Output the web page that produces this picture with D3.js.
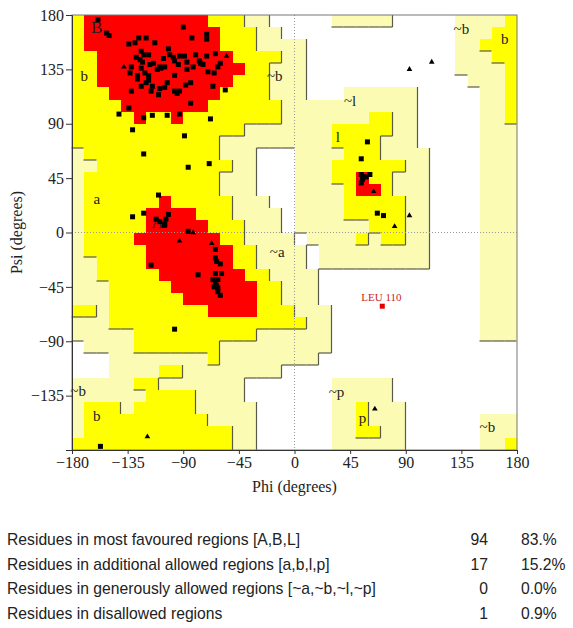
<!DOCTYPE html>
<html>
<head>
<meta charset="utf-8">
<script src="https://cdn.jsdelivr.net/npm/d3@7"></script>
<style>
  body { margin: 0; background: #fff; }
</style>
</head>
<body>
<div id="chart"></div>
<script>
// Region map, 10x10 degree cells. Rows go from psi 180 (top) down to psi -180,
// columns from phi -180 to 180. R core, Y allowed, P generous, . disallowed
const regionRows = [
  "YRRRRRRRRRRYYYPP.....PPPPP.....PPPPY",
  "YRRRRRRRRRRRYYYPP..............PPPYY",
  "YRRRRRRRRRRRYYYPPPP............PPYYY",
  "YYRRRRRRRRRRRYYYYPP............PPPYY",
  "YYRRRRRRRRRRRRYYPPP............PPPPY",
  "YYRRRRRRRRRRRYYYPPP.............PPPY",
  "YYYRRRRRRRRRYYYYPPP...PPPPPP.....PPY",
  "YYYYRRRRRRRYYYYYYPPPPPPPPPPP.....PPY",
  "YYYYYRYYRYYYYYYYYPPPPPPPYYPP.....PPY",
  "YYYYYYYYYYYYYYPPPPPPPYYYYYPP.....PPP",
  "YYYYYYYYYYYYPPPPPPPPPYYYYPPP.....PPP",
  "PYYYYYYYYYYYPPP...PPPPYYYPPPP....PPP",
  "PPYYYYYYYYYYYPP...PPPYYYYYYPP....PPP",
  "PYYYYYYYYYYYPPP...PPPYYRYYPPP....PPP",
  "PYYYYYYYYYYYPPP...PPPPYRRYPPP....PPP",
  "PYYYYYYRYYYYYPPP..PPPPYYYYYPP....PPP",
  "PYYYYYRRRRYYYPPPP.PPPPYYYYYPP....PPP",
  "PYYYYYRRRRRYYYPPP.PPPPPPYYYPP....PPP",
  "PYYYYRRRRRRRYYPPPP.PPPPYPYYPP....PPP",
  "PYYYYYRRRRRRRYYPPPP.PPPPPPPPP....PPP",
  "PPYYYYRRRRRRRYYPPPP.PPPPPPPPP....PPP",
  "PPYYYYYRRRRRRRYYPPPP.............PPP",
  "PPPYYYYYRRRRRRRYYPPP.............PPP",
  "PPPYYYYYYRRRRRRYYPPP.............PPP",
  "YYPYYYYYYYYRRRRYYYPPP............PPP",
  "PPPYYYYYYYYYYYYYYYYPP............PPP",
  "PPPPPYYYYYYYYYYPPPPPP............PPP",
  ".PPPPYYYYYYYPPPPPPPPP...............",
  "...PPPPPPPPYPPPPPPPP................",
  "...PPPPYYPPPPPPPP...................",
  "PPPPPYYPPPPPPP.......PPPPP..........",
  "PPPPPPYYYYPPPP.......PPPPP..........",
  "PYYYPYYYYYPPPPP......PPYPPP.........",
  "PYYYYYYYYYYPPPP......PPYPPP......PPP",
  "PYYYYYYYYYYYYPP......PPYYPP......PPP",
  "YYYYYYYYYYYYYPP......PPPPPP......PPY"
];

// residues [phi, psi]
const betaResidues = [
  [-159,176],[-152,165],[-150,163],[-90,170],[-83,161],[-71,164],[-71,160],[-126,161],
  [-120,161],[-134,156],[-129,157],[-113,157],[-102,152],[-124,150],[-122,147],[-118,147],
  [-128,145],[-125,143],[-132,137],[-124,136],[-117,139],[-114,140],[-109,137],[-106,144],
  [-101,147],[-98,145],[-97,142],[-93,146],[-89,146],[-87,141],[-80,147],[-77,142],
  [-74,139],[-71,146],[-64,148],[-62,137],[-133,132],[-127,130],[-121,132],[-118,130],
  [-111,135],[-108,136],[-105,137],[-94,139],[-87,135],[-82,137],[-76,140],[-70,133],
  [-65,132],[-118,126],[-124,121],[-115,121],[-109,119],[-105,120],[-97,117],[-95,115],
  [-93,117],[-88,122],[-84,124],[-66,121],[-132,117],[-116,117],[-110,114],[-84,107],
  [-115,97],[-103,97],[-93,98],[-122,95],[-97,130],[-103,124],[-127,127],[-120,124],
  [-123,141],[-60,140],[-56,118]
];
const extendedResidues = [
  [-142,98],[-134,103],[-68,94],[-131,85],[-89,80],[-122,65],[-69,57],[-86,54],[-157,-177]
];
const alphaResidues = [
  [-110,31],[-131,13],[-122,16],[-112,11],[-109,9],[-104,11],[-102,15],[-105,6],[-105,7],
  [-86,1],[-64,-14],[-116,-27],[-78,-35],[-64,-21],[-63,-24],[-60,-26],[-64,-34],[-59,-34],
  [-66,-39],[-64,-41],[-62,-39],[-63,-44],[-65,-45],[-62,-46],[-60,-52],[-62,-49],[-97,-80]
];
const leftResidues = [
  [54,48],[56,46],[58,46],[61,48],[54,41],[55,44],[67,16],[72,14],[54,61],[59,75]
];
const glycines = [
  [-138,137],[-55,146],[93,135],[111,141],[-82,0],[-93,-7],[-67,-9],
  [64,34],[93,14],[81,5],[-119,-169],[65,-146]
];
const outliers = [{label: "LEU 110", phi: 71, psi: -61}];

const regionLabels = [
  ["B",-160,170],["b",-170,130],["~b",-16,130],["~l",45,109],["l",35,79],
  ["~b",135,169],["b",170,160],["a",-160,28],["A",-111,9],["~a",-14,-16],
  ["~b",-175,-131],["b",-160,-152],["~p",34,-132],["p",55,-153],["~b",156,-161]
];

const phiTicks = [-180,-135,-90,-45,0,45,90,135,180];
const psiTicks = [-135,-90,-45,0,45,90,135,180];

const summaryLabels = [
  "Residues in most favoured regions [A,B,L]",
  "Residues in additional allowed regions [a,b,l,p]",
  "Residues in generously allowed regions [~a,~b,~l,~p]",
  "Residues in disallowed regions"
];
const summaryCounts = [94, 17, 0, 1];
const summaryPercents = ["83.%", "15.2%", "0.0%", "0.9%"];

const regionColor = {"R": "#ff0000", "Y": "#ffff00", "P": "#fbfbb4", ".": "#ffffff"};
const rank = {"R": 3, "Y": 2, "P": 1, ".": 0};

const W = 573, H = 628;
const svg = d3.select("#chart").append("svg")
  .attr("width", W).attr("height", H);

const x = d3.scaleLinear().domain([-180, 180]).range([72, 517]);
const y = d3.scaleLinear().domain([-180, 180]).range([450, 15]);
const px = v => Math.round(x(v));
const py = v => Math.round(y(v));

// region cells
const cells = [];
regionRows.forEach((row, r) => {
  row.split("").forEach((k, c) => {
    cells.push({r, c, k, phi: -180 + c * 10, psi: 180 - r * 10});
  });
});

const plot = svg.append("g");
plot.selectAll("rect.cell")
  .data(cells.filter(d => d.k !== "."))
  .join("rect")
  .attr("class", "cell")
  .attr("x", d => px(d.phi))
  .attr("y", d => py(d.psi))
  .attr("width", d => px(d.phi + 10) - px(d.phi))
  .attr("height", d => py(d.psi - 10) - py(d.psi))
  .attr("fill", d => regionColor[d.k])
  .attr("shape-rendering", "crispEdges");

// dark edge on the right/bottom side of a region boundary
const edges = [];
cells.forEach(d => {
  if (d.k === "R" || d.k === ".") return;
  const right = regionRows[d.r][d.c + 1];
  if (right !== undefined && rank[d.k] > rank[right])
    edges.push([d.phi + 10, d.psi, d.phi + 10, d.psi - 10]);
  const below = regionRows[d.r + 1] ? regionRows[d.r + 1][d.c] : undefined;
  if (below !== undefined && rank[d.k] > rank[below])
    edges.push([d.phi, d.psi - 10, d.phi + 10, d.psi - 10]);
});
plot.selectAll("line.edge")
  .data(edges)
  .join("line")
  .attr("class", "edge")
  .attr("x1", d => px(d[0]) - 0.5).attr("y1", d => py(d[1]))
  .attr("x2", d => px(d[2]) - 0.5).attr("y2", d => py(d[3]))
  .attr("stroke", "#5a5a4a")
  .attr("stroke-width", 1.2);

// zero lines
plot.append("line")
  .attr("x1", x(0)).attr("x2", x(0)).attr("y1", y(180)).attr("y2", y(-180))
  .attr("stroke", "#999").attr("stroke-dasharray", "1,2");
plot.append("line")
  .attr("x1", x(-180)).attr("x2", x(180)).attr("y1", y(0)).attr("y2", y(0))
  .attr("stroke", "#999").attr("stroke-dasharray", "1,2");

// region labels
plot.selectAll("text.reg")
  .data(regionLabels)
  .join("text")
  .attr("class", "reg")
  .attr("x", d => x(d[1]))
  .attr("y", d => y(d[2]))
  .attr("dy", "0.35em")
  .attr("text-anchor", "middle")
  .attr("font-family", "Liberation Serif")
  .attr("font-size", d => (d[0] === "A" || d[0] === "B") ? "17px" : "15px")
  .attr("fill", "#222")
  .text(d => d[0]);

// frame
svg.append("rect")
  .attr("x", x(-180)).attr("y", y(180))
  .attr("width", x(180) - x(-180)).attr("height", y(-180) - y(180))
  .attr("fill", "none").attr("stroke", "#777").attr("stroke-width", 1);

// points
const squares = betaResidues.concat(extendedResidues, alphaResidues, leftResidues);
plot.selectAll("rect.res")
  .data(squares)
  .join("rect")
  .attr("class", "res")
  .attr("x", d => x(d[0]) - 2.5)
  .attr("y", d => y(d[1]) - 2.5)
  .attr("width", 5).attr("height", 5)
  .attr("fill", "#000");

plot.selectAll("path.gly")
  .data(glycines)
  .join("path")
  .attr("class", "gly")
  .attr("d", d3.symbol(d3.symbolTriangle, 14))
  .attr("transform", d => `translate(${x(d[0])},${y(d[1])})`)
  .attr("fill", "#000");

plot.selectAll("rect.out")
  .data(outliers)
  .join("rect")
  .attr("class", "out")
  .attr("x", d => x(d.phi) - 2.5)
  .attr("y", d => y(d.psi) - 2.5)
  .attr("width", 5).attr("height", 5)
  .attr("fill", "#e00000");
plot.selectAll("text.out")
  .data(outliers)
  .join("text")
  .attr("class", "out")
  .attr("x", d => x(d.phi) - 21)
  .attr("y", d => y(d.psi) - 5)
  .attr("font-family", "Liberation Serif")
  .attr("font-size", "11px")
  .attr("fill", "#cc2222")
  .text(d => d.label);

// axes
const xAxis = svg.append("g")
  .attr("transform", `translate(0,${y(-180)})`)
  .call(d3.axisBottom(x).tickValues(phiTicks).tickSize(4).tickPadding(3));
const yAxis = svg.append("g")
  .attr("transform", `translate(${x(-180)},0)`)
  .call(d3.axisLeft(y).tickValues(psiTicks).tickSize(6).tickPadding(2));
[xAxis, yAxis].forEach(g => {
  g.select(".domain").attr("stroke", "#333");
  g.selectAll("text")
    .attr("font-family", "Liberation Serif")
    .attr("font-size", "16px")
    .attr("fill", "#222");
  g.selectAll("line").attr("stroke", "#333");
});

svg.append("text")
  .attr("x", x(0)).attr("y", 492)
  .attr("text-anchor", "middle")
  .attr("font-family", "Liberation Serif")
  .attr("font-size", "16px")
  .attr("fill", "#222")
  .text("Phi (degrees)");

svg.append("text")
  .attr("transform", `translate(22,${y(0)}) rotate(-90)`)
  .attr("text-anchor", "middle")
  .attr("font-family", "Liberation Serif")
  .attr("font-size", "16px")
  .attr("fill", "#222")
  .text("Psi (degrees)");

// summary table
const table = svg.append("g")
  .attr("font-family", "Liberation Sans")
  .attr("font-size", "15.7px")
  .attr("fill", "#222");
summaryLabels.forEach((label, i) => {
  const yy = 545 + i * 24.5;
  table.append("text").attr("x", 7).attr("y", yy).text(label);
  table.append("text").attr("x", 488).attr("y", yy)
    .attr("text-anchor", "end").text(summaryCounts[i]);
  table.append("text").attr("x", 521).attr("y", yy).text(summaryPercents[i]);
});
</script>
</body>
</html>
